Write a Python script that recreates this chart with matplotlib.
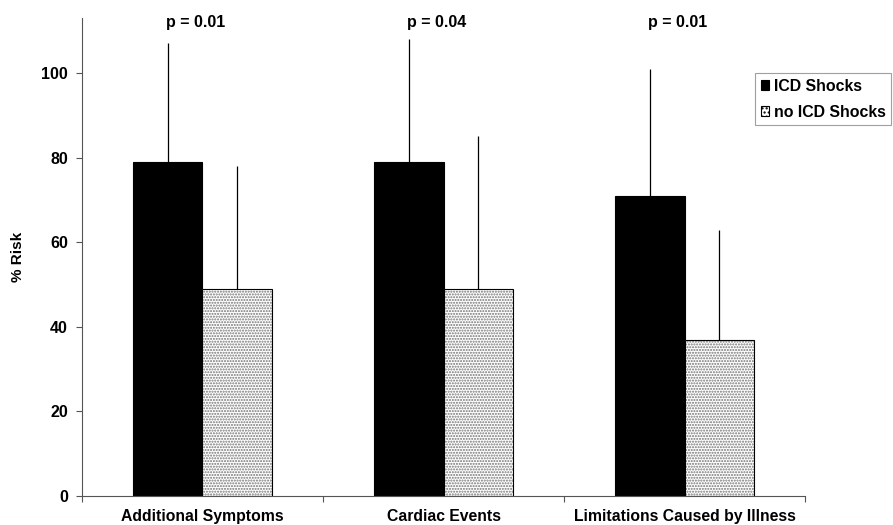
"""Percent risk with and without ICD shocks, grouped bar chart"""

import matplotlib
matplotlib.use("Agg")
import matplotlib.pyplot as plt
import numpy as np

categories = ["Additional Symptoms", "Cardiac Events", "Limitations Caused by Illness"]
shocks = [79, 79, 71]
shocks_err = [28, 29, 30]
no_shocks = [49, 49, 37]
no_shocks_err = [29, 36, 26]
p_values = ["p = 0.01", "p = 0.04", "p = 0.01"]

plt.rcParams['font.family'] = ['Liberation Sans', 'DejaVu Sans']
plt.rcParams['font.weight'] = 'bold'
plt.rcParams['hatch.linewidth'] = 1.0

fig = plt.figure(figsize=(8.93, 5.25), dpi=100)
ax = fig.add_axes([0.0918, 0.0552, 0.8097, 0.9105])

x = np.arange(len(categories))
width = 0.29

# error bars first so bars cover the lower half
ax.errorbar(x - width / 2, shocks, yerr=[np.zeros(3), shocks_err], fmt='none',
            ecolor='black', elinewidth=0.9, capsize=0, zorder=1)
ax.errorbar(x + width / 2, no_shocks, yerr=[np.zeros(3), no_shocks_err], fmt='none',
            ecolor='black', elinewidth=0.9, capsize=0, zorder=1)

ax.bar(x - width / 2, shocks, width, color='black', edgecolor='black',
       linewidth=0.8, zorder=2, label='ICD Shocks')
ax.bar(x + width / 2, no_shocks, width, color='white', edgecolor='#747474',
       hatch='......', linewidth=0, zorder=2)
ax.bar(x + width / 2, no_shocks, width, fill=False, edgecolor='black',
       linewidth=0.8, zorder=3)
# legend proxy for hatched series
proxy = plt.Rectangle((0, 0), 1, 1, facecolor='white', edgecolor='black',
                      hatch='....', linewidth=0.8)

for xi, p in zip(x, p_values):
    ax.text(xi - 0.03, 112, p, ha='center', va='center', fontsize=11.5,
            fontweight='bold')

ax.set_xlim(-0.5, 2.5)
ax.set_ylim(0, 113)
ax.set_yticks([0, 20, 40, 60, 80, 100])
ax.set_xticks([-0.5, 0.5, 1.5, 2.5], minor=False)
ax.set_xticklabels([])
ax.set_xticks(x, minor=True)
ax.set_xticklabels(categories, minor=True)
ax.tick_params(axis='x', which='minor', length=0, labelsize=11.3, pad=9)
ax.tick_params(axis='x', which='major', length=4, color='#555555')
ax.tick_params(axis='y', length=4, labelsize=11.5, color='#555555', pad=6)
for lbl in ax.get_xticklabels(minor=True) + ax.get_yticklabels():
    lbl.set_fontweight('bold')

ax.spines['top'].set_visible(False)
ax.spines['right'].set_visible(False)
ax.spines['left'].set_color('#555555')
ax.spines['bottom'].set_color('#555555')

ax.set_ylabel("% Risk", fontsize=11, fontweight='bold', labelpad=12)

handles = [ax.patches[0], proxy]
leg = fig.legend(handles, ['ICD Shocks', 'no ICD Shocks'], loc='upper left',
                 bbox_to_anchor=(0.8455, 0.861), borderaxespad=0,
                 frameon=True, fancybox=False,
                 edgecolor='#888888', handlelength=0.55, handleheight=0.55,
                 handletextpad=0.3, borderpad=0.35, labelspacing=0.7,
                 prop={'weight': 'bold', 'size': 11.4})
leg.get_frame().set_linewidth(0.8)

fig.savefig("out.png", dpi=100)
